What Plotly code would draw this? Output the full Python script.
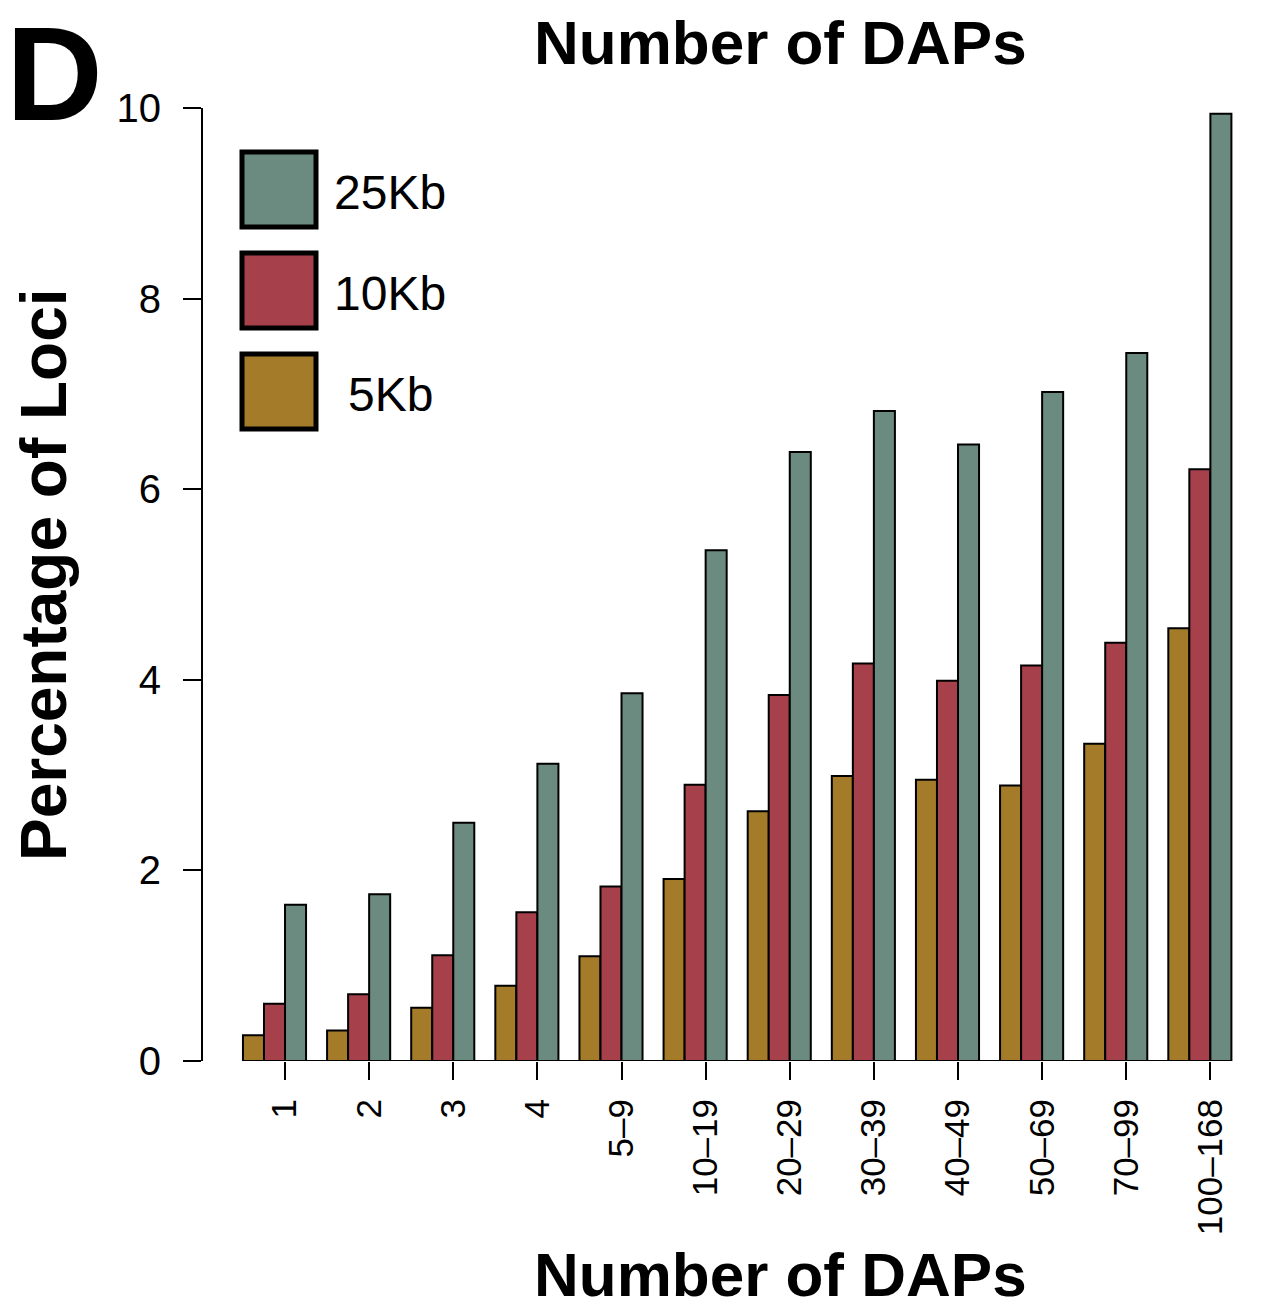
import plotly.graph_objects as go

# DAP-count bins along the x axis
categories = ["1", "2", "3", "4", "5\u20139", "10\u201319", "20\u201329", "30\u201339",
              "40\u201349", "50\u201369", "70\u201399", "100\u2013168"]

# Percentage of loci per window size
pct_5kb = [0.27, 0.32, 0.56, 0.79, 1.10, 1.91, 2.62, 2.99, 2.95, 2.89, 3.33, 4.54]
pct_10kb = [0.60, 0.70, 1.11, 1.56, 1.83, 2.90, 3.84, 4.17, 3.99, 4.15, 4.39, 6.21]
pct_25kb = [1.64, 1.75, 2.50, 3.12, 3.86, 5.36, 6.39, 6.82, 6.47, 7.02, 7.43, 9.94]

series_names = ["5Kb", "10Kb", "25Kb"]
series_values = [pct_5kb, pct_10kb, pct_25kb]
series_colors = ["#A47C29", "#A6404A", "#6B8A80"]

y_ticks = [0, 2, 4, 6, 8, 10]

W, H = 1268, 1310
L, R, T, B = 203, 0, 108, 249
plot_w = W - L - R
plot_h = H - T - B

FONT = "Liberation Sans, Arial, Helvetica, sans-serif"

def px_x(px):
    return (px - L) / plot_w

def px_y(py):
    return (H - B - py) / plot_h

idx = list(range(len(categories)))
bar_w = 0.25

fig = go.Figure()
for name, vals, col in zip(series_names, series_values, series_colors):
    fig.add_trace(go.Bar(
        x=idx, y=vals, name=name,
        marker=dict(color=col, line=dict(color="black", width=2)),
        showlegend=False,
    ))

shapes = []
# baseline under the bars
shapes.append(dict(type="line", xref="x", yref="y",
                   x0=idx[0] - 1.5 * bar_w, x1=idx[-1] + 1.5 * bar_w, y0=0, y1=0,
                   line=dict(color="black", width=2), layer="below"))

annotations = []
# legend: filled boxes with heavy outlines, largest window on top
legend_order = [2, 1, 0]
box_top = [152, 253, 354]
for k, top in zip(legend_order, box_top):
    shapes.append(dict(type="rect", xref="paper", yref="paper",
                       x0=px_x(242), x1=px_x(316), y0=px_y(top + 75), y1=px_y(top),
                       fillcolor=series_colors[k], line=dict(color="black", width=5)))
    annotations.append(dict(text=series_names[k], xref="paper", yref="paper",
                            x=px_x(390), y=px_y(top + 40), xanchor="center", yanchor="middle",
                            showarrow=False, font=dict(family=FONT, size=48, color="black")))

annotations += [
    dict(text="<b>Number of DAPs</b>", xref="paper", yref="paper",
         x=px_x(780), y=px_y(42), xanchor="center", yanchor="middle", showarrow=False,
         font=dict(family=FONT, size=62, color="black")),
    dict(text="<b>Number of DAPs</b>", xref="paper", yref="paper",
         x=px_x(780), y=px_y(1310), xanchor="center", yanchor="bottom", showarrow=False,
         borderpad=0,
         font=dict(family=FONT, size=62, color="black")),
    dict(text="<b>Percentage of Loci</b>", xref="paper", yref="paper",
         x=px_x(44), y=px_y(575), xanchor="center", yanchor="middle", showarrow=False,
         textangle=-90, font=dict(family=FONT, size=64, color="black")),
    dict(text="<b>D</b>", xref="paper", yref="paper",
         x=px_x(54), y=px_y(74), xanchor="center", yanchor="middle", showarrow=False,
         font=dict(family=FONT, size=134, color="black")),
]

fig.update_layout(
    width=W, height=H,
    margin=dict(l=L, r=R, t=T, b=B, pad=0),
    paper_bgcolor="white", plot_bgcolor="white",
    barmode="group", bargap=0.25, bargroupgap=0,
    shapes=shapes, annotations=annotations,
    font=dict(family=FONT, color="black"),
)
fig.update_xaxes(
    range=[-0.85, 11.81], showgrid=False, zeroline=False, showline=False,
    tickmode="array", tickvals=[i + bar_w / 2 for i in idx], ticktext=categories,
    ticks="outside", ticklen=18, tickwidth=2, tickcolor="black",
    tickangle=-90, tickfont=dict(family=FONT, size=35, color="black"),
    ticklabelstandoff=5,
)
fig.update_yaxes(
    range=[0, 10], showgrid=False, zeroline=False,
    showline=True, linewidth=2, linecolor="black",
    tickmode="array", tickvals=y_ticks, ticktext=[str(v) for v in y_ticks],
    ticks="outside", ticklen=18, tickwidth=2, tickcolor="black",
    tickfont=dict(family=FONT, size=40, color="black"),
    ticklabelstandoff=14,
)

fig.write_html("out.html")
